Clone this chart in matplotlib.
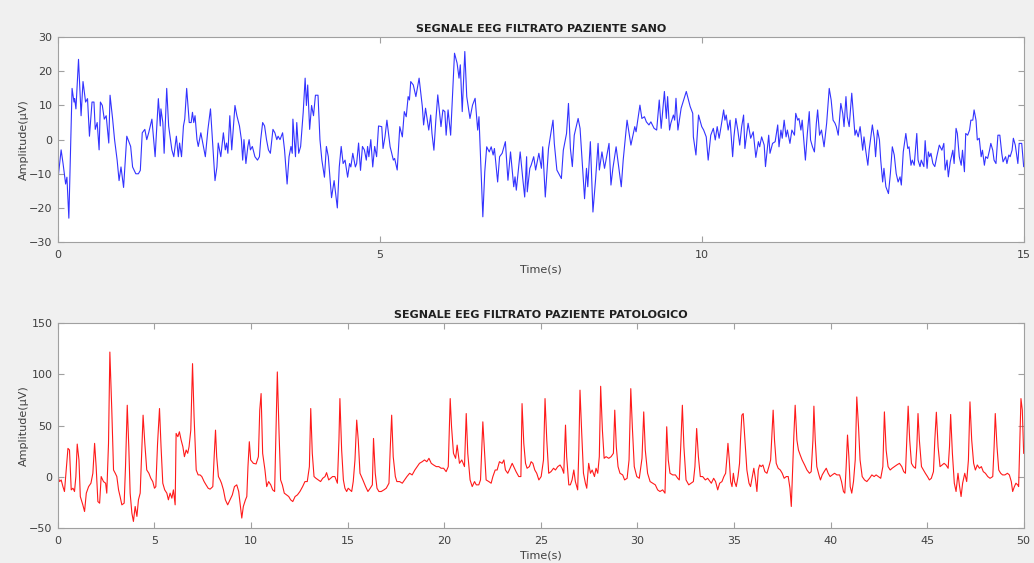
import matplotlib.pyplot as plt

# healthy patient EEG (15 s)
t_sano = [0.00, 0.01, 0.05, 0.08, 0.12, 0.14, 0.17, 0.22, 0.25, 0.26, 0.28, 0.32, 0.36, 0.39, 0.43, 0.46, 0.49,
          0.53, 0.56, 0.58, 0.61, 0.64, 0.66, 0.69, 0.72, 0.75, 0.79, 0.81, 0.85, 0.88, 0.92, 0.95, 0.98, 1.02,
          1.07, 1.13, 1.16, 1.21, 1.25, 1.28, 1.31, 1.35, 1.38, 1.41, 1.46, 1.51, 1.56, 1.59, 1.60, 1.63, 1.65,
          1.69, 1.72, 1.77, 1.80, 1.84, 1.87, 1.89, 1.92, 1.95, 1.97, 2.00, 2.04, 2.07, 2.09, 2.11, 2.13, 2.16,
          2.18, 2.22, 2.24, 2.29, 2.33, 2.37, 2.40, 2.44, 2.47, 2.49, 2.53, 2.57, 2.60, 2.62, 2.64, 2.67, 2.70,
          2.75, 2.78, 2.82, 2.85, 2.87, 2.89, 2.92, 2.95, 2.97, 2.99, 3.02, 3.06, 3.10, 3.13, 3.15, 3.18, 3.21,
          3.24, 3.27, 3.30, 3.34, 3.37, 3.40, 3.42, 3.45, 3.49, 3.52, 3.56, 3.59, 3.62, 3.64, 3.65, 3.69, 3.71,
          3.74, 3.77, 3.81, 3.84, 3.86, 3.88, 3.91, 3.94, 3.97, 4.00, 4.04, 4.07, 4.10, 4.14, 4.17, 4.20, 4.25,
          4.29, 4.34, 4.37, 4.40, 4.43, 4.46, 4.50, 4.53, 4.55, 4.58, 4.62, 4.64, 4.67, 4.70, 4.73, 4.76, 4.79,
          4.81, 4.83, 4.86, 4.89, 4.92, 4.95, 4.98,
          5.03, 5.05, 5.08, 5.11, 5.16, 5.18, 5.21, 5.23, 5.27, 5.31, 5.35, 5.38, 5.41, 5.44, 5.46, 5.48, 5.52,
          5.56, 5.61, 5.66, 5.68, 5.71, 5.73, 5.76, 5.79, 5.81, 5.84, 5.87, 5.90, 5.95, 5.98, 6.01, 6.03, 6.06,
          6.10, 6.16, 6.20, 6.23, 6.25, 6.28, 6.32, 6.35, 6.40, 6.44, 6.48, 6.52, 6.54, 6.60, 6.63, 6.66, 6.70,
          6.73, 6.76, 6.78, 6.83, 6.86, 6.90, 6.95, 6.99, 7.03, 7.08, 7.10, 7.12, 7.18, 7.22, 7.25, 7.28, 7.29,
          7.33, 7.35, 7.39, 7.42, 7.47, 7.51, 7.53, 7.57, 7.62, 7.66, 7.69, 7.71, 7.75, 7.82, 7.85, 7.90, 7.93,
          7.96, 7.99, 8.02, 8.08, 8.11, 8.14, 8.18, 8.21, 8.23, 8.27, 8.31, 8.35, 8.39, 8.41, 8.45, 8.49, 8.56,
          8.59, 8.62, 8.67, 8.75, 8.78, 8.84, 8.90, 8.96, 8.98, 9.04, 9.07, 9.11, 9.14, 9.18, 9.21, 9.26, 9.30,
          9.34, 9.37, 9.42, 9.45, 9.47, 9.50, 9.52, 9.56, 9.58, 9.60, 9.63, 9.68, 9.76, 9.82, 9.86, 9.87, 9.91,
          9.95, 10.00, 10.03, 10.07, 10.10,
          10.14, 10.18, 10.21, 10.24, 10.27, 10.30, 10.34, 10.36, 10.38, 10.41, 10.44, 10.48, 10.50, 10.53,
          10.56, 10.59, 10.62, 10.65, 10.67, 10.72, 10.76, 10.80, 10.84, 10.88, 10.90, 10.93, 10.97, 10.99,
          11.04, 11.06, 11.10, 11.14, 11.18, 11.20, 11.23, 11.25, 11.28, 11.31, 11.33, 11.37, 11.40, 11.44,
          11.46, 11.49, 11.51, 11.54, 11.56, 11.61, 11.64, 11.67, 11.69, 11.72, 11.75, 11.78, 11.80, 11.83,
          11.86, 11.90, 11.94, 11.98, 12.01, 12.04, 12.07, 12.09, 12.12, 12.16, 12.19, 12.21, 12.24, 12.26,
          12.29, 12.33, 12.35, 12.38, 12.40, 12.43, 12.46, 12.48, 12.50, 12.52, 12.55, 12.58, 12.60, 12.63,
          12.65, 12.68, 12.70, 12.73, 12.76, 12.78, 12.81, 12.83, 12.86, 12.90, 12.93, 12.96, 12.99, 13.02,
          13.05, 13.08, 13.10, 13.13, 13.17, 13.20, 13.22, 13.25, 13.27, 13.30, 13.34, 13.36, 13.39, 13.41,
          13.45, 13.47, 13.50, 13.52, 13.54, 13.56, 13.59, 13.62, 13.65, 13.69, 13.73, 13.76, 13.78, 13.81,
          13.83, 13.86, 13.90, 13.92, 13.95, 13.97, 14.00, 14.03, 14.05, 14.08, 14.10, 14.13, 14.16, 14.18,
          14.21, 14.23, 14.26, 14.28, 14.31, 14.34, 14.36, 14.39, 14.41, 14.44, 14.47, 14.49, 14.52, 14.54,
          14.57, 14.60, 14.63, 14.66, 14.68, 14.72, 14.74, 14.77, 14.79, 14.82, 14.84, 14.87, 14.91, 14.93,
          14.97, 15.00]
v_sano = [0.5, -10, -3, -7, -13, -11, -23, 15, 11, 12, 9, 23.5, 7, 17, 11, 12, 1,
          11, 11, 3, 5, -3, 11, 10, 6, 7, -1, 13, 6, 0, -6, -12, -8, -14,
          1, -2, -8, -10, -10, -9, 2, 3, 0, 2, 6, -5, 12, 4, 9, 5, -4,
          15, 4, -3, -5, 1, -5, -1, -5, 4, 6, 15, 5, 5, 8, 5, 7, 0,
          -2, 2, 0, -5, 3, 9, 0, -12, -8, -1, -5, 2, -3, -1, -4, 7, -3,
          10, 7, 4, 0, -6, 0, -7, -2, 0, -3, -2, -5, -6, -5, 0, 5, 4,
          0, -3, -4, 3, 2, 0, 1, 0, 2, -3, -13, -5, -2, -4, 6, -5, 5,
          -4, -2, 8, 18, 10, 16, 3, 10, 7, 13, 13, 0, -6, -11, -2, -5, -17,
          -12, -20, -8, -2, -7, -6, -11, -7, -8, -4, -8, -7, -1, -9, -2, -3, -6,
          -2, -5, 0, -8, -2, -5, 4,
          3.8, -2.6, 0.8, 5.7, -2.1, -3.6, -6.0, -5.5, -8.9, 3.8, 0.8, 8.2, 6.7, 12.6, 11.6, 17.0, 16.0,
          12.6, 18.0, 9.7, 4.3, 9.2, 6.7, 2.8, 7.2, 1.8, -3.1, 5.7, 13.1, 3.8, 8.7, 8.2, 1.3, 8.7,
          1.3, 25.3, 22.4, 18.0, 21.9, 8.2, 25.8, 12.6, 6.2, 10.1, 12.1, 2.8, 6.7, -22.6, -9.4, -2.1, -3.6,
          -2.1, -4.5, -2.6, -12.4, -5.0, -4.0, -0.6, -11.9, -3.6, -13.8, -10.9, -14.8, -3.6, -11.4, -16.8, -5.0, -15.3,
          -8.4, -7.5, -5.0, -8.9, -4.0, -8.4, -2.1, -16.8, -2.6, 2.3, 5.7, -1.1, -8.9, -11.4, -3.1, 1.8, 10.6,
          -2.6, -7.9, 1.3, 6.2, 3.3, -5.5, -17.3, -8.4, -13.8, -0.6, -21.2, -11.9, -1.1, -8.9, -3.6, -8.4, -1.1,
          -13.3, -8.4, -2.1, -13.8, -6.0, 5.7, -1.6, 3.8, 2.3, 10.1, 6.2, 6.7, 5.2, 4.3, 5.2, 3.3, 2.8,
          11.6, 3.3, 14.1, 6.2, 12.6, 2.8, 4.8, 7.2, 5.7, 12.1, 2.8, 9.2, 14.1, 9.7, 7.7, 0.8, -4.5,
          7.2, 3.8, 2.8, 0.8, -6.0,
          1.3, 3.3, -0.1, 3.8, 0.4, 3.8, 8.7, 5.7, 7.2, 2.8, 5.7, -5.0, 0.8, 6.2,
          2.8, -1.6, 3.8, 7.2, -2.6, 4.8, 0.4, 2.3, -5.2, -0.6, -2.1, 0.8, -1.6, -7.9,
          1.3, -4.0, -1.1, -0.6, 4.3, -2.1, 2.8, 0.4, 5.7, 0.8, 2.8, -1.1, 2.8, 1.3,
          7.7, 5.7, 6.2, 2.8, 5.7, -6.0, 1.8, 8.2, -0.1, -2.1, -3.6, 4.8, 8.7, 1.3,
          2.8, -2.1, 4.8, 15.0, 11.6, 5.7, 4.8, 3.8, 1.3, 10.6, 7.7, 3.8, 12.6, 6.7,
          3.8, 13.6, 8.7, 1.3, 2.8, 0.8, 3.8, 0.4, -3.1, 0.8, -3.6, -7.5, -3.1, 1.3,
          4.3, 0.4, -5.0, 2.8, -0.1, -6.0, -12.4, -8.4, -13.8, -15.8, -9.9, -2.1, -4.5, -9.9,
          -12.4, -10.9, -13.3, -3.6, 1.8, -2.6, -2.1, -7.5, -6.0, -7.5, 1.8, -6.0, -7.9, -6.0,
          -7.9, -0.3, -8.4, -3.6, -5.0, -4.0, -7.0, -7.9, -5.0, -1.6, -3.1, -1.1, -8.9, -6.0,
          -10.9, -6.5, -3.1, -7.0, 3.3, 1.8, -5.0, -7.5, -3.1, -9.4, 1.8, 1.3, 2.8, 5.7,
          5.7, 8.7, 5.7, -0.1, 0.4, -5.0, -3.1, -7.5, -5.0, -5.5, -3.1, -1.1, -3.1, -6.0,
          -7.0, 1.3, 1.3, -4.0, -6.5, -5.0, -7.0, -4.5, -5.0, -3.1, 0.4, -1.6, -7.0, -1.1,
          -1.1, -7.9]

# pathological patient EEG (50 s)
t_pato = [0.00, 0.09, 0.17, 0.26, 0.34, 0.43, 0.52, 0.60, 0.69, 0.78, 0.86, 0.93, 1.00, 1.09, 1.16, 1.29,
          1.38, 1.47, 1.59, 1.71, 1.81, 1.90, 1.98, 2.07, 2.16, 2.24, 2.36, 2.47, 2.53, 2.62, 2.69, 2.79,
          2.88, 2.97, 3.05, 3.14, 3.22, 3.31, 3.43, 3.50, 3.59, 3.67, 3.74, 3.83, 3.91, 4.00, 4.09, 4.17,
          4.26, 4.33, 4.41, 4.50, 4.60, 4.71, 4.81, 4.91, 5.00, 5.07, 5.16, 5.26, 5.34, 5.43, 5.53, 5.64,
          5.72, 5.81, 5.90, 5.98, 6.07, 6.12, 6.21, 6.29, 6.38, 6.47, 6.55, 6.64, 6.72, 6.79, 6.88, 6.97,
          7.05, 7.16, 7.26, 7.36, 7.45, 7.57, 7.67, 7.78, 7.88, 8.02, 8.09, 8.16, 8.22, 8.31, 8.40, 8.47,
          8.57, 8.67, 8.79, 8.91, 9.03, 9.14, 9.26, 9.36, 9.45, 9.52, 9.60, 9.71, 9.78, 9.84, 9.91, 9.98,
          10.12, 10.26, 10.38, 10.45, 10.52, 10.60, 10.72, 10.81, 10.91, 11.02, 11.12, 11.22, 11.29, 11.36,
          11.45, 11.53, 11.62, 11.72, 11.84, 11.95, 12.05, 12.16, 12.28, 12.40, 12.53, 12.67, 12.79, 12.91,
          13.02, 13.09, 13.17, 13.26, 13.36, 13.48, 13.60, 13.71, 13.83, 13.91, 14.02, 14.12, 14.22, 14.34,
          14.47, 14.55, 14.60, 14.69, 14.78, 14.86, 14.95, 15.03, 15.12, 15.21, 15.29, 15.38, 15.47, 15.55,
          15.64, 15.79, 15.93, 16.05, 16.17, 16.28, 16.34, 16.43, 16.52, 16.62, 16.74, 16.88, 17.00, 17.14,
          17.21, 17.28, 17.36, 17.47, 17.55, 17.69, 17.83, 17.95, 18.07, 18.21, 18.34, 18.48, 18.60, 18.72,
          18.86, 18.98, 19.10, 19.21, 19.33, 19.45, 19.59, 19.72, 19.84, 19.97, 20.10, 20.21, 20.31, 20.38,
          20.48, 20.59, 20.67, 20.79, 20.91, 21.05, 21.14, 21.22, 21.34, 21.45, 21.57, 21.66, 21.79, 21.88,
          22.00, 22.09, 22.17, 22.31, 22.43, 22.52, 22.64, 22.74, 22.86, 23.00, 23.09, 23.17, 23.29, 23.41,
          23.52, 23.60, 23.72, 23.86, 23.97, 24.03, 24.12, 24.21, 24.29, 24.41, 24.50, 24.59, 24.69, 24.79,
          24.90, 25.02, 25.14, 25.22, 25.31, 25.41, 25.53, 25.66, 25.76, 25.88, 26.00, 26.10, 26.19, 26.28,
          26.34, 26.45, 26.53, 26.62, 26.71, 26.79, 26.91, 26.97, 27.03, 27.12, 27.21, 27.31, 27.38, 27.48,
          27.57, 27.66, 27.78, 27.86, 27.95, 28.03, 28.10, 28.19, 28.28, 28.38, 28.52, 28.64, 28.76, 28.83,
          28.91, 29.00, 29.10, 29.24, 29.34, 29.47, 29.57, 29.66, 29.74, 29.84, 29.97, 30.10, 30.24, 30.33,
          30.41, 30.53, 30.66, 30.79, 30.93, 31.05, 31.17, 31.31, 31.43, 31.52, 31.60, 31.69, 31.83, 31.97,
          32.09, 32.17, 32.26, 32.33, 32.41, 32.52, 32.66, 32.78, 32.90, 32.98, 33.07, 33.16, 33.26, 33.38,
          33.52, 33.64, 33.83, 33.95, 34.05, 34.16, 34.26, 34.38, 34.48, 34.57, 34.64, 34.69, 34.76, 34.83,
          34.90, 34.97, 35.03, 35.12, 35.21, 35.29, 35.34, 35.41, 35.48, 35.57, 35.67, 35.78, 35.86, 35.95,
          36.03, 36.12, 36.19, 36.26, 36.33, 36.41, 36.50, 36.60, 36.71, 36.81, 36.90, 36.97, 37.03, 37.10,
          37.19, 37.29, 37.40, 37.50, 37.60, 37.71, 37.81, 37.90, 37.97, 38.03, 38.10, 38.17, 38.26, 38.34,
          38.43, 38.53, 38.66, 38.78, 38.91, 39.00, 39.09, 39.14, 39.21, 39.29, 39.40, 39.48, 39.57, 39.67,
          39.78, 39.88, 39.98, 40.09, 40.21, 40.33, 40.47, 40.57, 40.67, 40.74, 40.81, 40.88, 40.95, 41.02,
          41.10, 41.19, 41.28, 41.36, 41.45, 41.53, 41.64, 41.76, 41.88, 42.02, 42.14, 42.26, 42.36, 42.48,
          42.60, 42.71, 42.79, 42.88, 42.98, 43.09, 43.19, 43.31, 43.43, 43.57, 43.69, 43.79, 43.88, 43.95,
          44.02, 44.10, 44.19, 44.29, 44.40, 44.47, 44.53, 44.60, 44.71, 44.81, 44.91, 45.02, 45.12, 45.22,
          45.33, 45.40, 45.48, 45.57, 45.67, 45.78, 45.88, 45.98, 46.09, 46.16, 46.22, 46.31, 46.41, 46.50,
          46.60, 46.67, 46.76, 46.84, 46.95, 47.05, 47.14, 47.22, 47.31, 47.41, 47.50, 47.60, 47.71, 47.81,
          47.91, 48.02, 48.14, 48.26, 48.40, 48.47, 48.53, 48.62, 48.71, 48.81, 48.91, 49.03, 49.16, 49.26,
          49.36, 49.43, 49.52, 49.60, 49.69, 49.74, 49.79, 49.86, 49.93, 50.00]
v_pato = [0.3, -4.6, -3.0, -9.5, -14.3, 6.7, 27.8, 26.2, -12.7, -11.1, -14.3, 0.3, 32.0, 16.5, -19.2, -27.3,
          -33.8, -15.9, -9.5, -6.2, 3.5, 32.7, 10.0, -24.1, -25.7, 0.3, -4.6, -6.2, -15.9, 32.7, 121.8, 65.1,
          6.7, 3.5, 0.3, -12.7, -19.2, -27.3, -25.7, 10.0, 69.9, 29.4, -15.9, -35.4, -43.5, -28.9, -38.6, -22.4,
          -15.9, 19.7, 60.2, 32.7, 6.7, 3.5, -1.4, -4.6, -11.1, -9.5, 32.7, 66.7, 29.4, -6.2, -12.7, -15.9,
          -22.4, -15.9, -20.8, -12.7, -27.3, 42.4, 39.2, 44.0, 35.9, 29.4, 19.7, 26.2, 23.0, 29.4, 45.6, 110.5,
          58.6, 6.7, 1.9, 1.9, 0.3, -4.6, -7.8, -11.1, -12.0, -9.5, 19.7, 45.6, 19.7, 0.3, -3.0, -6.2,
          -12.7, -22.4, -27.3, -22.4, -17.6, -9.5, -7.8, -14.3, -28.9, -40.2, -28.9, -22.4, -19.2, 10.0, 34.3, 16.5,
          13.2, 12.6, 19.7, 65.1, 81.3, 23.0, 6.7, -9.5, -4.6, -7.8, -12.7, -14.3, 42.4, 102.4,
          42.4, -3.0, -7.8, -15.9, -17.6, -19.2, -22.4, -24.1, -19.2, -17.6, -14.3, -9.5, -4.6, -4.6,
          10.0, 66.7, 23.0, 0.3, -1.4, -3.0, -4.6, -1.4, 0.3, 4.1, -3.0, -1.4, 0.3, 0.3,
          -6.2, 35.9, 76.4, 26.2, -3.0, -11.1, -14.3, -11.1, -12.7, -14.3, -4.6, 16.5, 55.4, 35.9,
          3.5, -3.0, -9.5, -14.3, -11.1, -7.8, 37.5, 3.5, -11.1, -14.3, -14.3, -12.7, -11.1, -6.2,
          29.4, 60.2, 19.7, 0.3, -4.6, -4.6, -6.2, -3.0, 0.3, 3.5, 1.9, 6.7, 10.0, 13.2,
          14.8, 16.5, 14.8, 18.1, 13.2, 11.6, 10.0, 10.0, 8.4, 8.4, 5.1, 10.0, 76.4, 48.9,
          23.0, 18.1, 31.0, 13.2, 16.5, 10.0, 61.8, 23.0, -3.0, -9.5, -4.6, -7.8, -7.8, -3.0,
          53.7, 23.0, -3.0, -4.6, -6.2, 0.3, 6.7, 6.7, 14.8, 13.2, 16.5, 6.7, 3.5, 8.4,
          13.2, 10.0, 5.1, 0.3, 0.3, 71.5, 32.7, 13.2, 8.4, 10.0, 14.8, 13.2, 6.7, 3.5,
          -3.0, 0.3, 16.5, 76.4, 35.9, 3.5, 5.1, 8.4, 6.7, 10.0, 11.6, 8.4, 3.5, 50.5,
          19.7, -7.8, -7.8, -3.0, 6.7, -4.6, -12.7, 26.2, 84.6, 42.4, 3.5, -6.2, -11.1, 13.2,
          3.5, 6.7, 0.3, 8.4, 3.5, 19.7, 88.4, 45.6, 18.1, 19.7, 18.1, 19.7, 23.0, 65.1,
          29.4, 10.0, 3.5, 1.9, -3.0, -1.4, 16.5, 86.1, 48.9, 10.0, 0.3, -1.4, 18.1, 63.4,
          26.2, 3.5, -4.6, -6.2, -7.8, -12.7, -14.3, -12.7, -15.9, 48.9, 16.5, 3.5, 1.9, 1.9,
          -1.4, -3.0, 35.9, 69.9, 29.4, -3.0, -7.8, -6.2, -4.6, 10.0, 47.2, 19.7, 0.3, 0.3,
          -3.0, -1.4, -6.2, -1.4, -4.6, -12.7, -6.2, -4.6, 0.3, 3.5, 19.7, 32.7, 16.5, -4.6,
          -9.5, 3.5, -4.6, -9.5, 0.3, 13.2, 35.9, 60.2, 61.8, 35.9, 6.7, -6.2, -9.5, 0.3,
          8.4, -3.0, -14.3, 6.7, 11.6, 10.0, 11.6, 5.1, 3.5, 10.0, 16.5, 42.4, 65.1, 35.9,
          13.2, 8.4, 6.7, 3.5, -1.4, 0.3, 0.3, -11.1, -28.9, 3.5, 39.2, 69.9, 35.9, 26.2,
          21.4, 16.5, 11.6, 6.7, 3.5, 5.1, 35.9, 69.0, 35.9, 10.0, 1.9, -3.0, 1.9, 5.1,
          8.4, 3.5, 0.3, 1.9, 3.5, 1.9, 1.9, -4.6, -14.3, -15.9, 10.0, 40.8, 19.7, -9.5,
          -15.9, -4.6, 16.5, 78.0, 48.9, 16.5, 0.3, -3.0, -4.6, -1.4, 1.9, 0.3, 1.9, 0.3,
          -1.4, 10.0, 63.4, 26.2, 10.0, 6.7, 8.4, 10.0, 11.6, 13.2, 10.0, 5.1, 3.5, 35.9,
          69.0, 35.9, 13.2, 10.0, 8.4, 29.4, 61.8, 35.9, 10.0, 6.7, 3.5, 0.3, -3.0, -1.4,
          5.1, 35.9, 63.1, 29.4, 10.0, 11.6, 13.2, 11.6, 8.4, 29.4, 60.9, 23.0, -6.2, -14.3,
          3.5, -7.8, -19.2, -6.2, 3.5, -4.6, 16.5, 73.2, 35.9, 13.2, 6.7, 11.6, 8.4, 10.0,
          5.1, 3.5, 0.3, -1.4, 0.3, 29.4, 61.8, 29.4, 6.7, 3.5, 1.9, 1.9, 3.5, 1.9,
          -4.6, -14.3, -9.5, -6.2, -7.8, -9.5, 26.2, 76.4, 65.1, 23.0]

bg = '#f0f0f0'
axcol = '#a0a0a0'
txtcol = '#404040'

fig = plt.figure(figsize=(10.34, 5.63), dpi=100, facecolor=bg)
ax1 = fig.add_axes([0.056, 0.570, 0.934, 0.364])
ax2 = fig.add_axes([0.056, 0.062, 0.934, 0.364])

ax1.plot(t_sano, v_sano, color='#3333ff', linewidth=0.8)
ax2.plot(t_pato, v_pato, color='#ff1a1a', linewidth=0.8)

ax1.set_xlim(0, 15)
ax1.set_ylim(-30, 30)
ax1.set_xticks([0, 5, 10, 15])
ax1.set_yticks([-30, -20, -10, 0, 10, 20, 30])
ax1.set_title('SEGNALE EEG FILTRATO PAZIENTE SANO', fontsize=8, fontweight='bold', color='#202020', pad=4)

ax2.set_xlim(0, 50)
ax2.set_ylim(-50, 150)
ax2.set_xticks(range(0, 51, 5))
ax2.set_yticks([-50, 0, 50, 100, 150])
ax2.set_title('SEGNALE EEG FILTRATO PAZIENTE PATOLOGICO', fontsize=8, fontweight='bold', color='#202020', pad=4)

for ax in (ax1, ax2):
    ax.set_facecolor('white')
    ax.set_xlabel('Time(s)', fontsize=8, color=txtcol, labelpad=3)
    ax.set_ylabel('Amplitude(μV)', fontsize=8, color=txtcol, labelpad=0)
    ax.tick_params(direction='in', top=True, right=True, labelsize=8, colors=txtcol,
                   length=4, width=0.8, color=axcol)
    ax.tick_params(axis='x', pad=6)
    ax.tick_params(axis='y', pad=4)
    for s in ax.spines.values():
        s.set_color(axcol)
        s.set_linewidth(0.8)

fig.savefig('out.png', dpi=100, facecolor=bg)
